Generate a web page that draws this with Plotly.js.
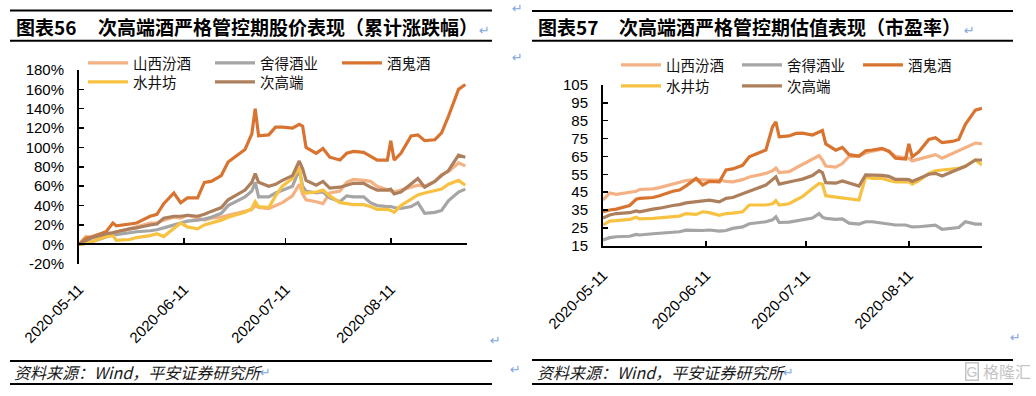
<!DOCTYPE html>
<html><head><meta charset="utf-8">
<script src="https://cdn.plot.ly/plotly-3.0.1.min.js"></script>
<style>html,body{margin:0;padding:0;background:#fff;}#chart{width:1036px;height:396px;}</style>
</head><body><div id="chart"></div>
<script>
// ---- data ----
const dates = ['2020-05-11','2020-05-13','2020-05-15','2020-05-19','2020-05-21','2020-05-22','2020-05-26','2020-05-28',
 '2020-06-01','2020-06-03','2020-06-05','2020-06-08','2020-06-10','2020-06-12','2020-06-15','2020-06-17','2020-06-19',
 '2020-06-22','2020-06-24','2020-06-29','2020-07-01','2020-07-02','2020-07-03','2020-07-06','2020-07-08','2020-07-10',
 '2020-07-13','2020-07-15','2020-07-16','2020-07-17','2020-07-20','2020-07-22','2020-07-24','2020-07-27','2020-07-29',
 '2020-07-31','2020-08-03','2020-08-05','2020-08-07','2020-08-10','2020-08-11','2020-08-12','2020-08-14','2020-08-17',
 '2020-08-19','2020-08-21','2020-08-24','2020-08-26','2020-08-28','2020-08-31','2020-09-02'];
const seriesNames = ['山西汾酒','舍得酒业','酒鬼酒','水井坊','次高端'];
const seriesColors = ['#F4B183','#A5A5A5','#D87430','#F7C242','#AD7F5C'];

// 图表56 累计涨跌幅 (%)
const ret_fenjiu   = [0,8,7,10,12,13,16,18,22,22,25,28,27,30,27,25,27,28,30,34,36,40,38,37,40,43,50,62,52,46,44,42,53,55,64,67,66,65,60,56,55,54,56,59,61,60,65,72,75,84,81];
const ret_shede    = [0,1,3,8,10,10,12,13,14,15,17,20,22,24,25,26,28,32,40,49,55,64,49,49,53,56,60,77,60,55,53,54,48,44,50,49,49,43,40,39,39,38,37,39,43,32,33,35,45,54,57];
const ret_jiugui   = [0,6,8,13,22,19,21,22,29,31,42,53,43,48,48,64,65,71,85,98,114,140,112,113,121,121,120,124,122,100,94,99,90,87,94,96,95,91,87,87,107,87,94,112,113,107,108,115,132,160,165];
const ret_shuijing = [0,1,3,8,9,4,5,7,9,11,8,17,22,18,16,20,22,25,28,33,37,44,39,38,50,60,68,80,55,53,54,56,50,43,42,41,41,39,36,36,35,33,40,47,51,53,55,57,62,66,61];
const ret_cigaoduan= [0,4,7,11,12,13,16,17,20,21,27,29,29,30,29,31,34,38,46,56,64,73,64,60,62,66,71,86,78,66,61,65,58,59,61,63,63,59,56,56,57,52,54,63,68,59,65,71,76,92,90];

// 图表57 市盈率
const pe_fenjiu   = [40.6,44.5,43.8,44.8,45.5,46.5,46.8,47.5,49.5,50.3,51.5,52,51.8,51.8,51.8,51,50.8,52,53.5,55.5,57,58.5,56,56.5,58.5,60.5,63.5,65.5,63,59.6,59,61,65,65,67,68,69,68,65,64,64,62.5,63.5,65.3,66,64,66.5,68.6,70,72.5,72];
const pe_shede    = [18.2,19.5,20,20.3,21.3,21,21.7,21.9,22.5,22.8,23.7,23.4,23.5,23.8,23.2,23.5,24.7,25.5,27.3,28.4,29.5,31.2,28,28.2,28.8,29.6,30.5,33,31,30.3,29.7,30,27.6,27.1,28.4,28.4,27.8,27.3,26.6,26.6,26,25.5,25.6,26.3,26.5,24.1,24.7,25.2,28.4,27.1,27.1];
const pe_jiugui   = [34,35,35.5,37.5,41,41.5,42,43,45.5,46.2,48.5,52.7,49,51,50.8,57.4,58,60,64.8,68.6,81.6,84.4,76,76.5,77.9,78,77,79,79.5,72,68.5,70,66,65.2,68.2,68.6,69.5,67.8,64,63.5,72,64.8,67.6,74.5,75.5,72.7,73.4,74.5,83,90.9,91.9];
const pe_shuijing = [26.6,28.8,29,29.7,31,30,30.3,30.6,31.3,31.6,33,32.5,34,33.5,32,33,33.2,34,37.8,37.8,38.5,40.2,37.8,38.5,40.6,42.5,47,49.9,49.5,43,42.2,41.8,41,40.6,53.5,52.7,52.7,51.5,50.8,50.8,50.8,49.5,51.5,55.5,57,57.4,57.8,58.3,59.5,63,60.2];
const pe_cigaoduan= [30.5,32.2,33,33.5,34.5,34,35.5,36,37.5,38,39,39.8,40.3,40.5,39.5,41.5,42,44,45.3,49,52,53.6,49.5,50.5,51.5,52.3,54.3,57,56,50.3,50,51.3,50.3,48.4,54.6,54.6,54.4,53.8,52.1,52.1,52,51,52.5,55,55.5,54,56.4,58,59.5,63,63];

const retTicks = [-20,0,20,40,60,80,100,120,140,160,180];
const peTicks  = [15,25,35,45,55,65,75,85,95,105];

const title1a = '图表56', title1b = '次高端酒严格管控期股价表现（累计涨跌幅）';
const title2a = '图表57', title2b = '次高端酒严格管控期估值表现（市盈率）';
const sourceText = '资料来源：Wind，平安证券研究所';

// ---- layout helpers ----
const W = 1036, H = 396;
const px = x => x / W, py = y => 1 - y / H;
const CJK = "'Noto Sans CJK SC','Noto Sans',sans-serif";
const LAT = "'Liberation Sans',Arial,sans-serif";
const xRange = ['2020-05-11', '2020-09-02 12:00'];
const xRange2 = ['2020-05-11', '2020-09-02'];

const retData = [ret_fenjiu, ret_shede, ret_jiugui, ret_shuijing, ret_cigaoduan];
const peData  = [pe_fenjiu, pe_shede, pe_jiugui, pe_shuijing, pe_cigaoduan];

const traces = [];
retData.forEach((ys, i) => traces.push({
  x: dates, y: ys, xaxis: 'x', yaxis: 'y', mode: 'lines', name: seriesNames[i],
  line: {color: seriesColors[i], width: 3.2}, legend: i < 3 ? 'legend' : 'legend2', hoverinfo: 'skip'
}));
peData.forEach((ys, i) => traces.push({
  x: dates, y: ys, xaxis: 'x2', yaxis: 'y2', mode: 'lines', name: seriesNames[i],
  line: {color: seriesColors[i], width: 3.2}, legend: i < 3 ? 'legend3' : 'legend4', hoverinfo: 'skip'
}));
traces.push({x: [dates[0]], y: [null], xaxis: 'x3', yaxis: 'y', mode: 'lines', showlegend: false, hoverinfo: 'skip'});

const tickFont = {family: LAT, size: 15, color: '#000'};
const axCommon = {showgrid: false, zeroline: false, linecolor: '#000', linewidth: 2, tickcolor: '#000',
  ticklen: 5, tickwidth: 1.5, fixedrange: true};

const legendBase = (x, y, ew) => ({
  orientation: 'h', x: x, y: y, xanchor: 'left', yanchor: 'middle', itemwidth: 40,
  entrywidth: ew, entrywidthmode: 'pixels', bgcolor: 'rgba(0,0,0,0)', borderwidth: 0,
  font: {family: CJK, size: 14.5, color: '#111'}, itemclick: false, itemdoubleclick: false
});

const shapes = [];
[[10, 492, 10.5], [10, 492, 40.7], [10, 492, 361], [10, 492, 384],
 [532, 1013, 11], [532, 1013, 40.7], [532, 1013, 360], [532, 1013, 384]].forEach(s => shapes.push({
  type: 'line', xref: 'paper', yref: 'paper', x0: px(s[0]), x1: px(s[1]), y0: py(s[2]), y1: py(s[2]),
  line: {color: '#000', width: 2}
}));

const ann = (text, x, y, font, extra) => Object.assign({
  text: text, xref: 'paper', yref: 'paper', x: px(x), y: py(y), xanchor: 'left', yanchor: 'middle',
  showarrow: false, font: font
}, extra || {});
const titleFont = {family: CJK, size: 19, color: '#000', weight: 'bold'};
const srcFont = {family: CJK, size: 16, color: '#1a1a1a', style: 'italic'};
const markFont = {family: "'DejaVu Sans',sans-serif", size: 13, color: '#7EA6E0'};
const annotations = [
  ann(title1a, 14, 27, titleFont), ann(title1b, 96, 27, titleFont),
  ann(title2a, 536, 27, titleFont), ann(title2b, 617, 27, titleFont),
  ann(sourceText, 12, 372, srcFont), ann(sourceText, 535, 372, srcFont),
  ann('↵', 477, 30, markFont), ann('↵', 962, 30, markFont),
  ann('↵', 510, 9, markFont), ann('↵', 510, 58, markFont),
  ann('↵', 488, 340, markFont), ann('↵', 1008, 337, markFont),
  ann('↵', 508, 369, markFont), ann('↵', 258, 372, markFont), ann('↵', 781, 372, markFont),
  ann('G', 965, 371, {family: LAT, size: 14, color: '#c4c4c4'}, {bordercolor: '#c4c4c4', borderwidth: 1.5, borderpad: 0}),
  ann('格隆汇', 981, 371, {family: CJK, size: 16, color: '#c4c4c4'})
];

const layout = {
  width: W, height: H, autosize: false, margin: {l: 0, r: 0, t: 0, b: 0},
  paper_bgcolor: '#fff', plot_bgcolor: 'rgba(0,0,0,0)', showlegend: true,
  xaxis: Object.assign({}, axCommon, {domain: [px(79), px(467)], type: 'date', range: xRange,
    anchor: 'free', position: py(244.3), showline: true, ticks: 'inside',
    dtick: 'M1', tick0: '2020-05-11', showticklabels: false}),
  xaxis3: Object.assign({}, axCommon, {overlaying: 'x', anchor: 'y', side: 'bottom', type: 'date', range: xRange,
    dtick: 'M1', tick0: '2020-05-11', tickformat: '%Y-%m-%d', tickangle: -45, showline: false, ticks: '',
    tickfont: tickFont, ticklabelstandoff: 13}),
  yaxis: Object.assign({}, axCommon, {domain: [py(263.7), py(70)], anchor: 'x', range: [-20, 180],
    tickmode: 'array', tickvals: retTicks, ticktext: retTicks.map(v => v + '%'),
    showline: true, ticks: 'inside', tickfont: tickFont, ticklabelstandoff: 10}),
  xaxis2: Object.assign({}, axCommon, {domain: [px(603), px(982)], anchor: 'y2', type: 'date', range: xRange2,
    showline: true, ticks: 'inside', dtick: 'M1', tick0: '2020-05-11', tickformat: '%Y-%m-%d',
    tickangle: -45, tickfont: tickFont, ticklabelstandoff: 13}),
  yaxis2: Object.assign({}, axCommon, {domain: [py(245.7), py(85)], anchor: 'x2', range: [15, 105],
    tickmode: 'array', tickvals: peTicks, ticktext: peTicks.map(String),
    showline: true, ticks: 'inside', tickfont: tickFont, ticklabelstandoff: 10}),
  legend: legendBase(px(83), py(63), 72),
  legend2: legendBase(px(83), py(82), 72),
  legend3: legendBase(px(616), py(65), 66),
  legend4: legendBase(px(616), py(86), 66),
  shapes: shapes, annotations: annotations
};

Plotly.newPlot('chart', traces, layout, {displayModeBar: false, staticPlot: true});
</script></body></html>
